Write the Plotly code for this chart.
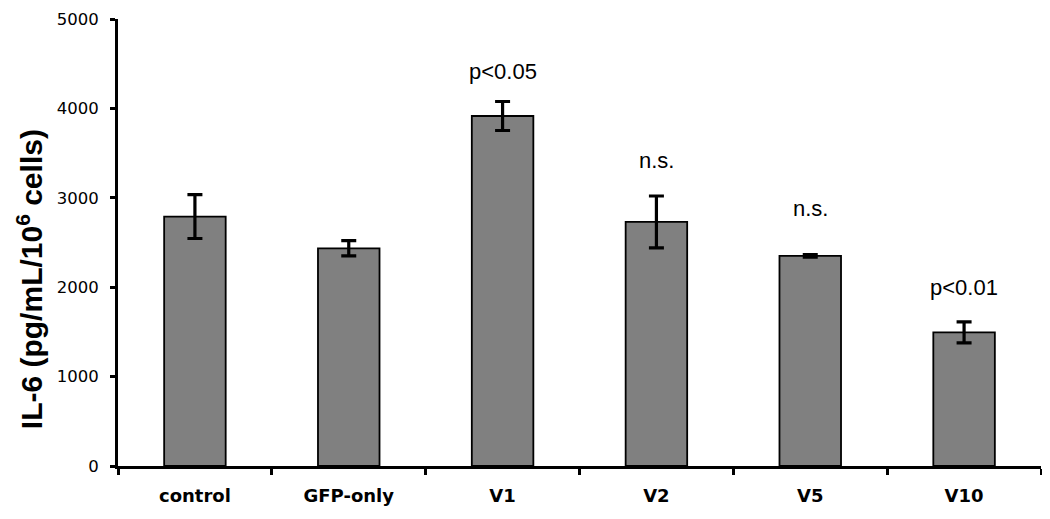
import plotly.graph_objects as go

categories = ["control", "GFP-only", "V1", "V2", "V5", "V10"]
values = [2790, 2435, 3915, 2730, 2350, 1495]
errors = [245, 85, 162, 290, 15, 118]
sig_labels = ["", "", "p<0.05", "n.s.", "n.s.", "p<0.01"]
sig_y = [None, None, 4410, 3420, 2885, 2000]
y_ticks = [0, 1000, 2000, 3000, 4000, 5000]
y_title = "IL-6 (pg/mL/10<sup>6</sup> cells)"

fig = go.Figure()
fig.add_trace(go.Bar(
    x=categories, y=values,
    width=0.4,
    marker=dict(color="#808080", line=dict(color="black", width=1.8)),
    error_y=dict(type="data", array=errors, visible=True, color="black",
                 thickness=3.2, width=7.5),
    showlegend=False,
))

for c, lab, yy in zip(categories, sig_labels, sig_y):
    if lab:
        fig.add_annotation(x=c, y=yy, text=lab, showarrow=False,
                           xref="x", yref="y", yanchor="middle",
                           font=dict(family="Liberation Sans, Arial", size=22, color="black"))

fig.add_annotation(x=-0.0953, y=0.418, xref="paper", yref="paper",
                   text=y_title, textangle=-90, showarrow=False,
                   xanchor="center", yanchor="middle",
                   font=dict(family="Liberation Sans, Arial", size=30, color="black", weight="bold"))

fig.update_layout(
    width=1042, height=511,
    margin=dict(l=110, r=9, t=11, b=53),
    plot_bgcolor="white", paper_bgcolor="white",
    xaxis=dict(
        type="category",
        showline=True, linecolor="black", linewidth=3,
        ticks="outside", ticklen=6, tickwidth=2.5, tickcolor="black",
        tickson="boundaries",
        ticklabelstandoff=11,
        tickfont=dict(family="DejaVu Sans", size=18, color="black", weight="bold"),
        showgrid=False, zeroline=False,
        range=[-0.5, 5.5],
        automargin=False,
    ),
    yaxis=dict(
        range=[0, 5000],
        tickvals=y_ticks,
        showline=True, linecolor="black", linewidth=3,
        ticks="outside", ticklen=5, tickwidth=2.5, tickcolor="black",
        ticklabelstandoff=8,
        tickfont=dict(family="DejaVu Sans", size=16.5, color="black"),
        showgrid=False, zeroline=False,
        automargin=False,
    ),
    bargap=0.6,
)

fig.write_html("out.html")
